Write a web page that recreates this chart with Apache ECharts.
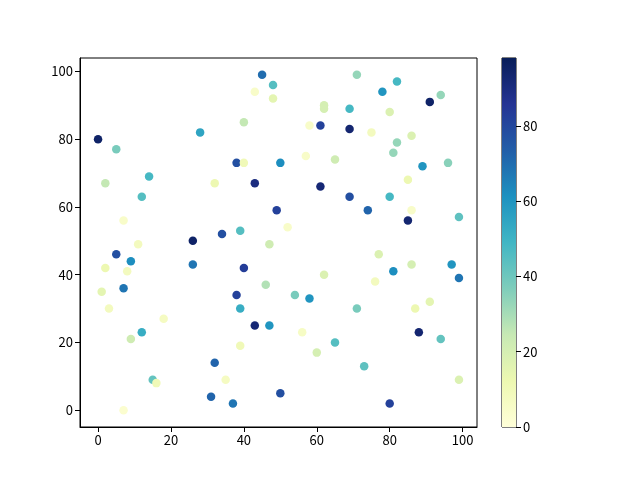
<!DOCTYPE html>
<html>
<head>
<meta charset="utf-8">
<script src="https://cdn.jsdelivr.net/npm/echarts@6/dist/echarts.min.js"></script>
<style>
  html, body { margin: 0; padding: 0; background: #fff; }
  #chart { width: 640px; height: 480px; }
</style>
</head>
<body>
<div id="chart"></div>
<script>
// scatter points: x, y and colour value
var xs = [45, 48, 43, 48, 40, 28, 0, 5, 38, 40, 50, 14, 2, 32, 43, 12, 49, 7, 26, 34, 39, 47,
  71, 82, 78, 94, 91, 62, 62, 69, 80, 58, 61, 69, 75, 86, 82, 81, 57, 65, 89, 96, 85, 61, 69, 80, 74, 86, 85, 99, 52,
  11, 5, 9, 2, 8, 26, 40, 7, 1, 46, 38, 3, 39, 18, 43, 47, 12, 9, 39, 32, 15, 16, 35, 31, 37, 50, 7,
  77, 86, 97, 99, 81, 62, 76, 54, 58, 71, 87, 91, 88, 94, 56, 65, 60, 73, 99, 80]
var ys = [99, 96, 94, 92, 85, 82, 80, 77, 73, 73, 73, 69, 67, 67, 67, 63, 59, 56, 50, 52, 53, 49,
  99, 97, 94, 93, 91, 90, 89, 89, 88, 84, 84, 83, 82, 81, 79, 76, 75, 74, 72, 73, 68, 66, 63, 63, 59, 59, 56, 57, 54,
  49, 46, 44, 42, 41, 43, 42, 36, 35, 37, 34, 30, 30, 27, 25, 25, 23, 21, 19, 14, 9, 8, 9, 4, 2, 5, 0,
  46, 43, 43, 39, 41, 40, 38, 34, 33, 30, 30, 32, 23, 21, 23, 20, 17, 13, 9, 2]
var cs = [70, 45, 5, 15, 25, 55, 95, 38, 78, 10, 62, 48, 25, 12, 90, 45, 82, 5, 95, 78, 45, 22,
  33, 48, 60, 33, 95, 20, 20, 48, 18, 5, 82, 93, 8, 18, 33, 33, 5, 22, 60, 35, 12, 92, 78, 48, 72, 5, 93, 43, 5,
  8, 78, 62, 12, 8, 68, 83, 68, 15, 28, 82, 8, 52, 7, 92, 60, 52, 22, 10, 72, 42, 10, 7, 72, 68, 78, 3,
  18, 20, 60, 68, 62, 18, 8, 38, 60, 38, 12, 15, 93, 42, 6, 45, 20, 43, 18, 82]

var xTicks = [0, 20, 40, 60, 80, 100]
var yTicks = [0, 20, 40, 60, 80, 100]
var cbarTicks = [0, 20, 40, 60, 80]
var cMin = 0
var cMax = 98

// YlGnBu
var ylgnbu = ['#ffffd9', '#edf8b1', '#c7e9b4', '#7fcdbb', '#41b6c4', '#1d91c0', '#225ea8', '#253494', '#081d58']

var points = []
for (var i = 0; i < xs.length; i++) {
  points.push([xs[i], ys[i], cs[i]])
}

var gradStops = ylgnbu.slice().reverse().map(function (c, i, arr) {
  return { offset: i / (arr.length - 1), color: c }
})

var font = 'Noto Sans CJK SC'
var labelStyle = { color: '#000', fontSize: 13, fontFamily: font, margin: 7 }
var lineStyle = { onZero: false, lineStyle: { color: '#000', width: 1 } }

var myChart = echarts.init(document.getElementById('chart'))
myChart.setOption({
  animation: false,
  backgroundColor: '#fff',
  grid: [
    { left: 80, top: 58, width: 397, height: 369, show: true, borderColor: '#000', borderWidth: 1, backgroundColor: 'transparent' },
    { left: 502, top: 58, width: 14, height: 369, show: true, borderColor: '#000', borderWidth: 1, backgroundColor: 'transparent' }
  ],
  visualMap: {
    show: false,
    type: 'continuous',
    seriesIndex: 0,
    dimension: 2,
    min: cMin,
    max: cMax,
    inRange: { color: ylgnbu }
  },
  xAxis: [
    {
      type: 'value',
      gridIndex: 0,
      min: -4.95,
      max: 103.95,
      splitLine: { show: false },
      axisLine: lineStyle,
      axisTick: { length: 5, lineStyle: { color: '#000' }, customValues: xTicks },
      axisLabel: Object.assign({ customValues: xTicks }, labelStyle)
    },
    {
      type: 'category',
      gridIndex: 1,
      data: ['c'],
      show: false
    }
  ],
  yAxis: [
    {
      type: 'value',
      gridIndex: 0,
      min: -4.95,
      max: 103.95,
      splitLine: { show: false },
      axisLine: lineStyle,
      axisTick: { length: 5, lineStyle: { color: '#000' }, customValues: yTicks },
      axisLabel: Object.assign({ customValues: yTicks }, labelStyle)
    },
    {
      type: 'value',
      gridIndex: 1,
      position: 'right',
      min: cMin,
      max: cMax,
      splitLine: { show: false },
      axisLine: { show: false },
      axisTick: { show: true, length: 5, lineStyle: { color: '#000' }, customValues: cbarTicks },
      axisLabel: Object.assign({ customValues: cbarTicks }, labelStyle)
    }
  ],
  series: [
    {
      type: 'scatter',
      xAxisIndex: 0,
      yAxisIndex: 0,
      symbolSize: 8.5,
      itemStyle: { opacity: 1 },
      data: points
    },
    {
      type: 'bar',
      xAxisIndex: 1,
      yAxisIndex: 1,
      barWidth: '100%',
      silent: true,
      data: [cMax],
      itemStyle: {
        color: new echarts.graphic.LinearGradient(0, 0, 0, 1, gradStops)
      }
    }
  ]
})
window.addEventListener('resize', function () {
  myChart.resize()
})
</script>
</body>
</html>
